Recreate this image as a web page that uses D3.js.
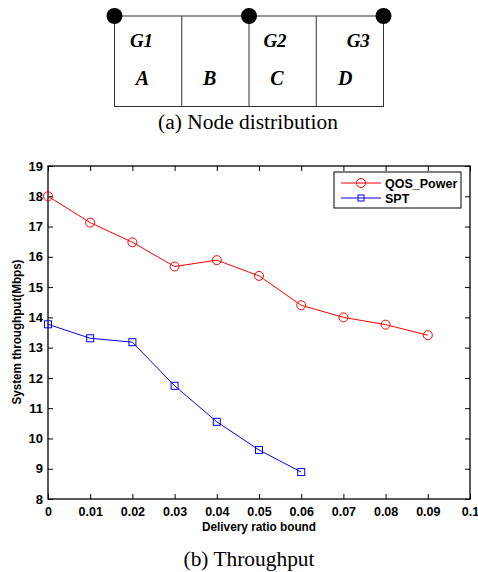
<!DOCTYPE html>
<html>
<head>
<meta charset="utf-8">
<script src="https://cdn.jsdelivr.net/npm/d3@7"></script>
<style>
  body { margin: 0; background: #fff; }
  svg { display: block; }
</style>
</head>
<body>
<div id="chart"></div>
<script>
const width = 478;
const height = 572;

// data
const ratios = [0, 0.01, 0.02, 0.03, 0.04, 0.05, 0.06, 0.07, 0.08, 0.09];
const qosPower = [18.0, 17.13, 16.48, 15.68, 15.89, 15.37, 14.4, 14.0, 13.76, 13.41];
const spt = [13.77, 13.31, 13.18, 11.74, 10.55, 9.62, 8.89];
const xTicks = [0, 0.01, 0.02, 0.03, 0.04, 0.05, 0.06, 0.07, 0.08, 0.09, 0.1];
const yTicks = [8, 9, 10, 11, 12, 13, 14, 15, 16, 17, 18, 19];
const cells = ["A", "B", "C", "D"];
const groups = [{name: "G1", cell: 0}, {name: "G2", cell: 2}, {name: "G3", cell: 3}];

const svg = d3.select("#chart")
  .append("svg")
  .attr("width", width)
  .attr("height", height);

// ---- (a) node distribution ----
const boxX = d3.scaleLinear().domain([0, cells.length]).range([114.5, 383.5]);
const boxTop = 16, boxBottom = 106.5;
const dia = svg.append("g");

dia.append("rect")
  .attr("x", boxX(0)).attr("y", boxTop)
  .attr("width", boxX(4) - boxX(0)).attr("height", boxBottom - boxTop)
  .attr("fill", "none").attr("stroke", "#333").attr("stroke-width", 1);

dia.selectAll("line.div")
  .data([1, 2, 3])
  .join("line")
  .attr("x1", d => boxX(d)).attr("x2", d => boxX(d))
  .attr("y1", boxTop).attr("y2", boxBottom)
  .attr("stroke", "#333").attr("stroke-width", 1);

dia.selectAll("text.cell")
  .data(cells)
  .join("text")
  .attr("x", (d, i) => boxX(i) + [28, 28, 28, 29][i])
  .attr("y", 85)
  .attr("text-anchor", "middle")
  .attr("font-family", "Liberation Serif, serif")
  .attr("font-style", "italic").attr("font-weight", "bold")
  .attr("font-size", 20)
  .text(d => d);

dia.selectAll("text.grp")
  .data(groups)
  .join("text")
  .attr("x", d => boxX(d.cell) + [27, 26, 42][groups.indexOf(d)])
  .attr("y", 47)
  .attr("text-anchor", "middle")
  .attr("font-family", "Liberation Serif, serif")
  .attr("font-style", "italic").attr("font-weight", "bold")
  .attr("font-size", 19)
  .text(d => d.name);

dia.selectAll("circle")
  .data([0, 2, 4])
  .join("circle")
  .attr("cx", d => boxX(d)).attr("cy", boxTop)
  .attr("r", 8).attr("fill", "#000");

svg.append("text")
  .attr("x", 248).attr("y", 129)
  .attr("text-anchor", "middle")
  .attr("font-family", "Liberation Serif, serif")
  .attr("font-size", 20)
  .attr("textLength", 180).attr("lengthAdjust", "spacingAndGlyphs")
  .text("(a) Node distribution");

// ---- (b) throughput chart ----
const margin = {left: 48, right: 470, top: 166, bottom: 499};
const x = d3.scaleLinear().domain([0, 0.1]).range([margin.left, margin.right]);
const y = d3.scaleLinear().domain([8, 19]).range([margin.bottom, margin.top]);

const plot = svg.append("g");
const tickFont = g => g.selectAll("text")
  .attr("font-family", "Liberation Sans, Arial, sans-serif")
  .attr("font-weight", "bold").attr("font-size", 12).attr("fill", "#000");

plot.append("g")
  .attr("transform", `translate(0,${margin.bottom})`)
  .call(d3.axisBottom(x).tickValues(xTicks).tickSizeInner(-5).tickSizeOuter(0).tickPadding(8)
    .tickFormat(d => d === 0 ? "0" : d3.format("")(+d.toFixed(2))))
  .call(g => g.select(".domain").remove())
  .call(g => g.selectAll("line").attr("stroke", "#000"))
  .call(tickFont)
  .call(g => g.selectAll("text").attr("font-size", 12.5));

plot.append("g")
  .attr("transform", `translate(${margin.left},0)`)
  .call(d3.axisLeft(y).tickValues(yTicks).tickSizeInner(-5).tickSizeOuter(0).tickPadding(5))
  .call(g => g.select(".domain").remove())
  .call(g => g.selectAll("line").attr("stroke", "#000"))
  .call(tickFont)
  .call(g => g.selectAll("text").attr("font-size", 13));

plot.append("g")
  .attr("transform", `translate(0,${margin.top})`)
  .call(d3.axisTop(x).tickValues(xTicks).tickSizeInner(-5).tickSizeOuter(0).tickFormat(""))
  .call(g => g.select(".domain").remove())
  .call(g => g.selectAll("line").attr("stroke", "#000"));

plot.append("g")
  .attr("transform", `translate(${margin.right},0)`)
  .call(d3.axisRight(y).tickValues(yTicks).tickSizeInner(-5).tickSizeOuter(0).tickFormat(""))
  .call(g => g.select(".domain").remove())
  .call(g => g.selectAll("line").attr("stroke", "#000"));

plot.append("rect")
  .attr("x", margin.left).attr("y", margin.top)
  .attr("width", margin.right - margin.left).attr("height", margin.bottom - margin.top)
  .attr("fill", "none").attr("stroke", "#000").attr("stroke-width", 1.3);

const line = d3.line().x(d => x(d[0])).y(d => y(d[1]));
const qosPts = ratios.map((r, i) => [r, qosPower[i]]);
const sptPts = spt.map((v, i) => [ratios[i], v]);

plot.append("path").datum(qosPts)
  .attr("d", line).attr("fill", "none").attr("stroke", "#ff0000").attr("stroke-width", 1);
plot.append("path").datum(sptPts)
  .attr("d", line).attr("fill", "none").attr("stroke", "#0000ff").attr("stroke-width", 1);

plot.selectAll("circle.qos")
  .data(qosPts)
  .join("circle")
  .attr("cx", d => x(d[0])).attr("cy", d => y(d[1]))
  .attr("r", 4.5).attr("fill", "none").attr("stroke", "#ff0000").attr("stroke-width", 1);

plot.selectAll("rect.spt")
  .data(sptPts)
  .join("rect")
  .attr("x", d => x(d[0]) - 3.5).attr("y", d => y(d[1]) - 3.5)
  .attr("width", 7).attr("height", 7)
  .attr("fill", "none").attr("stroke", "#0000ff").attr("stroke-width", 1);

// axis labels
svg.append("text")
  .attr("x", (margin.left + margin.right) / 2).attr("y", 531)
  .attr("text-anchor", "middle")
  .attr("font-family", "Liberation Sans, Arial, sans-serif")
  .attr("font-weight", "bold").attr("font-size", 12)
  .attr("textLength", 114).attr("lengthAdjust", "spacingAndGlyphs")
  .text("Delivery ratio bound");

svg.append("text")
  .attr("transform", "translate(21,332) rotate(-90)")
  .attr("text-anchor", "middle")
  .attr("font-family", "Liberation Sans, Arial, sans-serif")
  .attr("font-weight", "bold").attr("font-size", 12)
  .attr("textLength", 145).attr("lengthAdjust", "spacingAndGlyphs")
  .text("System throughput(Mbps)");

// legend
const legend = svg.append("g");
legend.append("rect")
  .attr("x", 334).attr("y", 172).attr("width", 127).attr("height", 36)
  .attr("fill", "#fff").attr("stroke", "#000").attr("stroke-width", 1);

const legendItems = [
  {name: "QOS_Power", color: "#ff0000", shape: "circle"},
  {name: "SPT", color: "#0000ff", shape: "square"}
];
const rowY = d3.scalePoint().domain(legendItems.map(d => d.name)).range([183, 198]);

legendItems.forEach(d => {
  const yy = rowY(d.name);
  legend.append("line")
    .attr("x1", 341).attr("x2", 381).attr("y1", yy).attr("y2", yy)
    .attr("stroke", d.color).attr("stroke-width", 1);
  if (d.shape === "circle") {
    legend.append("circle").attr("cx", 361).attr("cy", yy).attr("r", 4.5)
      .attr("fill", "none").attr("stroke", d.color);
  } else {
    legend.append("rect").attr("x", 358).attr("y", yy - 3).attr("width", 6).attr("height", 6)
      .attr("fill", "none").attr("stroke", d.color);
  }
  legend.append("text")
    .attr("x", 385).attr("y", yy + 4.5)
    .attr("font-family", "Liberation Sans, Arial, sans-serif")
    .attr("font-weight", "bold").attr("font-size", 12.5)
    .text(d.name);
});

svg.append("text")
  .attr("x", 249).attr("y", 566)
  .attr("text-anchor", "middle")
  .attr("font-family", "Liberation Serif, serif")
  .attr("font-size", 20)
  .attr("textLength", 131).attr("lengthAdjust", "spacingAndGlyphs")
  .text("(b) Throughput");
</script>
</body>
</html>
